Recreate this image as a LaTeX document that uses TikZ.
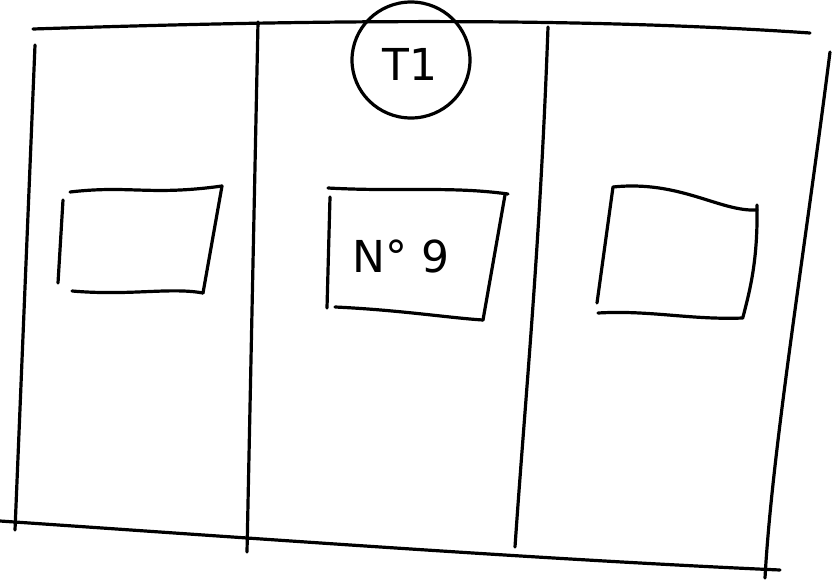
\documentclass[tikz,border=0pt]{standalone}
\usepackage{fontspec}
\setmainfont{DejaVu Sans}
\usetikzlibrary{shapes.geometric}
\tikzset{
  pen/.style={line width=3.2pt, line cap=round, line join=round, black},
  label/.style={font=\fontsize{44}{48}\selectfont, inner sep=0pt},
}
\begin{document}
\begin{tikzpicture}[x=1pt,y=-1pt]
\useasboundingbox (0,0) rectangle (833,581);
% outer frame
\draw[pen] (33,29) .. controls (250,22) and (550,15) .. (810,33);
\draw[pen] (0,521) .. controls (250,538) and (550,560) .. (780,570);
\draw[pen] (35,45) -- (15,530);
\draw[pen] (258,22) -- (247,552);
\draw[pen] (548,27) .. controls (540,250) and (525,400) .. (515,547);
\draw[pen] (830,52) .. controls (805,250) and (772,450) .. (765,578);
% circle
\node[pen, draw, ellipse, minimum width=118pt, minimum height=116pt, inner sep=0pt] (t1) at (411,60) {};
\node[label] (t1text) at (410,64) {T1};
% left box
\draw[pen] (70,192) .. controls (130,185) and (150,196) .. (222,186);
\draw[pen] (222,186) -- (203,293);
\draw[pen] (72,291) .. controls (130,296) and (170,287) .. (203,293);
\draw[pen] (63,200) -- (58,283);
% middle box
\draw[pen] (328,188) .. controls (400,192) and (450,186) .. (508,194);
\draw[pen] (330,197) -- (327,308);
\draw[pen] (335,307) .. controls (400,310) and (450,318) .. (483,320);
\draw[pen] (505,195) -- (483,320);
\node[label] (no9) at (401,256) {N° 9};
% right box
\draw[pen] (613,187) .. controls (680,180) and (720,212) .. (757,210);
\draw[pen] (757,205) .. controls (758,260) and (750,290) .. (743,317);
\draw[pen] (598,313) .. controls (650,310) and (690,320) .. (743,318);
\draw[pen] (613,187) -- (597,303);
\end{tikzpicture}
\end{document}
